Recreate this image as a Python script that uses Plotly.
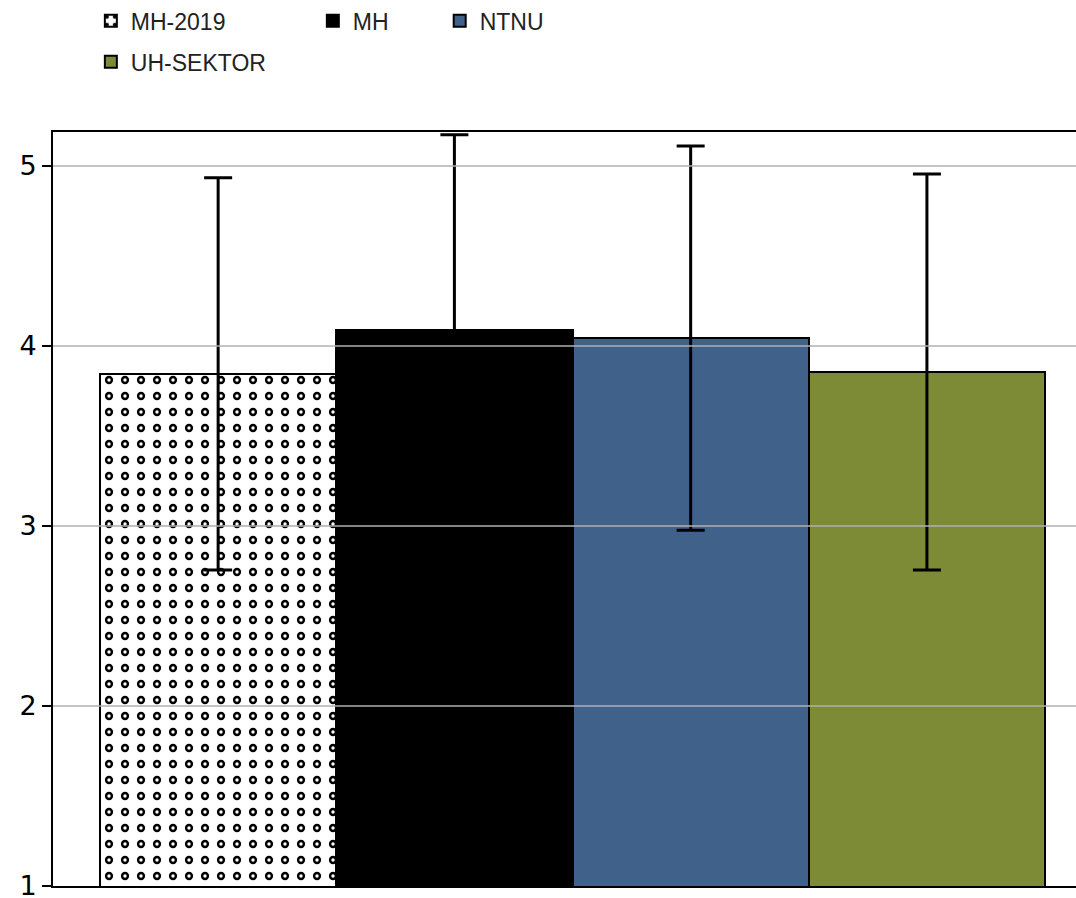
import plotly.graph_objects as go

categories = ["MH-2019", "MH", "NTNU", "UH-SEKTOR"]
means = [3.845, 4.089, 4.044, 3.856]
errors = [1.09, 1.085, 1.067, 1.10]
colors = ["#ffffff", "#000000", "#40618a", "#7d8b37"]
legend_ids = ["legend", "legend2", "legend3", "legend"]
y_ticks = [1, 2, 3, 4, 5]

fig = go.Figure()

for cat, m, e, c, lg in zip(categories, means, errors, colors, legend_ids):
    patterned = cat == "MH-2019"
    marker = dict(color=c, line=dict(color="black", width=2))
    if patterned:
        marker["pattern"] = dict(shape=".", fgcolor="black", bgcolor="white",
                                 size=16, solidity=0.21, fillmode="replace")
    fig.add_trace(go.Bar(
        x=[cat], y=[m], name=cat, marker=marker,
        error_y=None if patterned else dict(type="data", array=[e], color="black",
                                            thickness=3, width=14),
        legend=lg, legendgroup=cat, showlegend=True,
    ))
    if patterned:
        # white centres of the ring-shaped dots
        fig.add_trace(go.Bar(
            x=[cat], y=[m], name=cat, showlegend=False, hoverinfo="skip",
            marker=dict(color="rgba(0,0,0,0)", line=dict(color="black", width=2),
                        pattern=dict(shape=".", fgcolor="white", bgcolor="rgba(0,0,0,0)",
                                     size=16, solidity=0.035, fillmode="replace")),
            error_y=dict(type="data", array=[e], color="black", thickness=3, width=14),
        ))

# gridlines drawn above the bars, as in the reference
for v in y_ticks[1:]:
    fig.add_shape(type="line", xref="paper", x0=0, x1=1, yref="y", y0=v, y1=v,
                  line=dict(color="#b0b0b0", width=1.5), layer="above")

legend_font = dict(family="Liberation Sans, Arial, sans-serif", size=23, color="#222222")
common_legend = dict(orientation="v", xanchor="left", yanchor="top", font=legend_font,
                     bgcolor="rgba(0,0,0,0)", tracegroupgap=8, itemwidth=30)

fig.update_layout(
    width=1076, height=898,
    margin=dict(l=53, r=0, t=132, b=12, autoexpand=False),
    paper_bgcolor="white", plot_bgcolor="white",
    barmode="overlay", bargap=0,
    showlegend=True,
    legend=dict(x=0.037, y=1.176, **common_legend),
    legend2=dict(x=0.254, y=1.176, **common_legend),
    legend3=dict(x=0.378, y=1.176, **common_legend),
    xaxis=dict(type="category", categoryorder="array", categoryarray=categories,
               range=[-0.699, 3.631], showticklabels=False, ticks="", automargin=False,
               showgrid=False, showline=True, linecolor="black", linewidth=2,
               mirror=True, zeroline=False, layer="above traces"),
    yaxis=dict(range=[1, 5.189], tickvals=y_ticks, ticktext=[str(t) for t in y_ticks],
               showgrid=False, ticklabeloverflow="allow", automargin=False,
               showline=True, linecolor="black", linewidth=2, zeroline=False,
               ticks="outside", ticklen=9, tickwidth=2, tickcolor="black",
               tickfont=dict(family="DejaVu Sans", size=27, color="black"),
               layer="above traces"),
)

fig.write_html("out.html", config={"displayModeBar": False},
               post_script="document.body.style.margin='0';document.body.style.overflow='hidden';")
